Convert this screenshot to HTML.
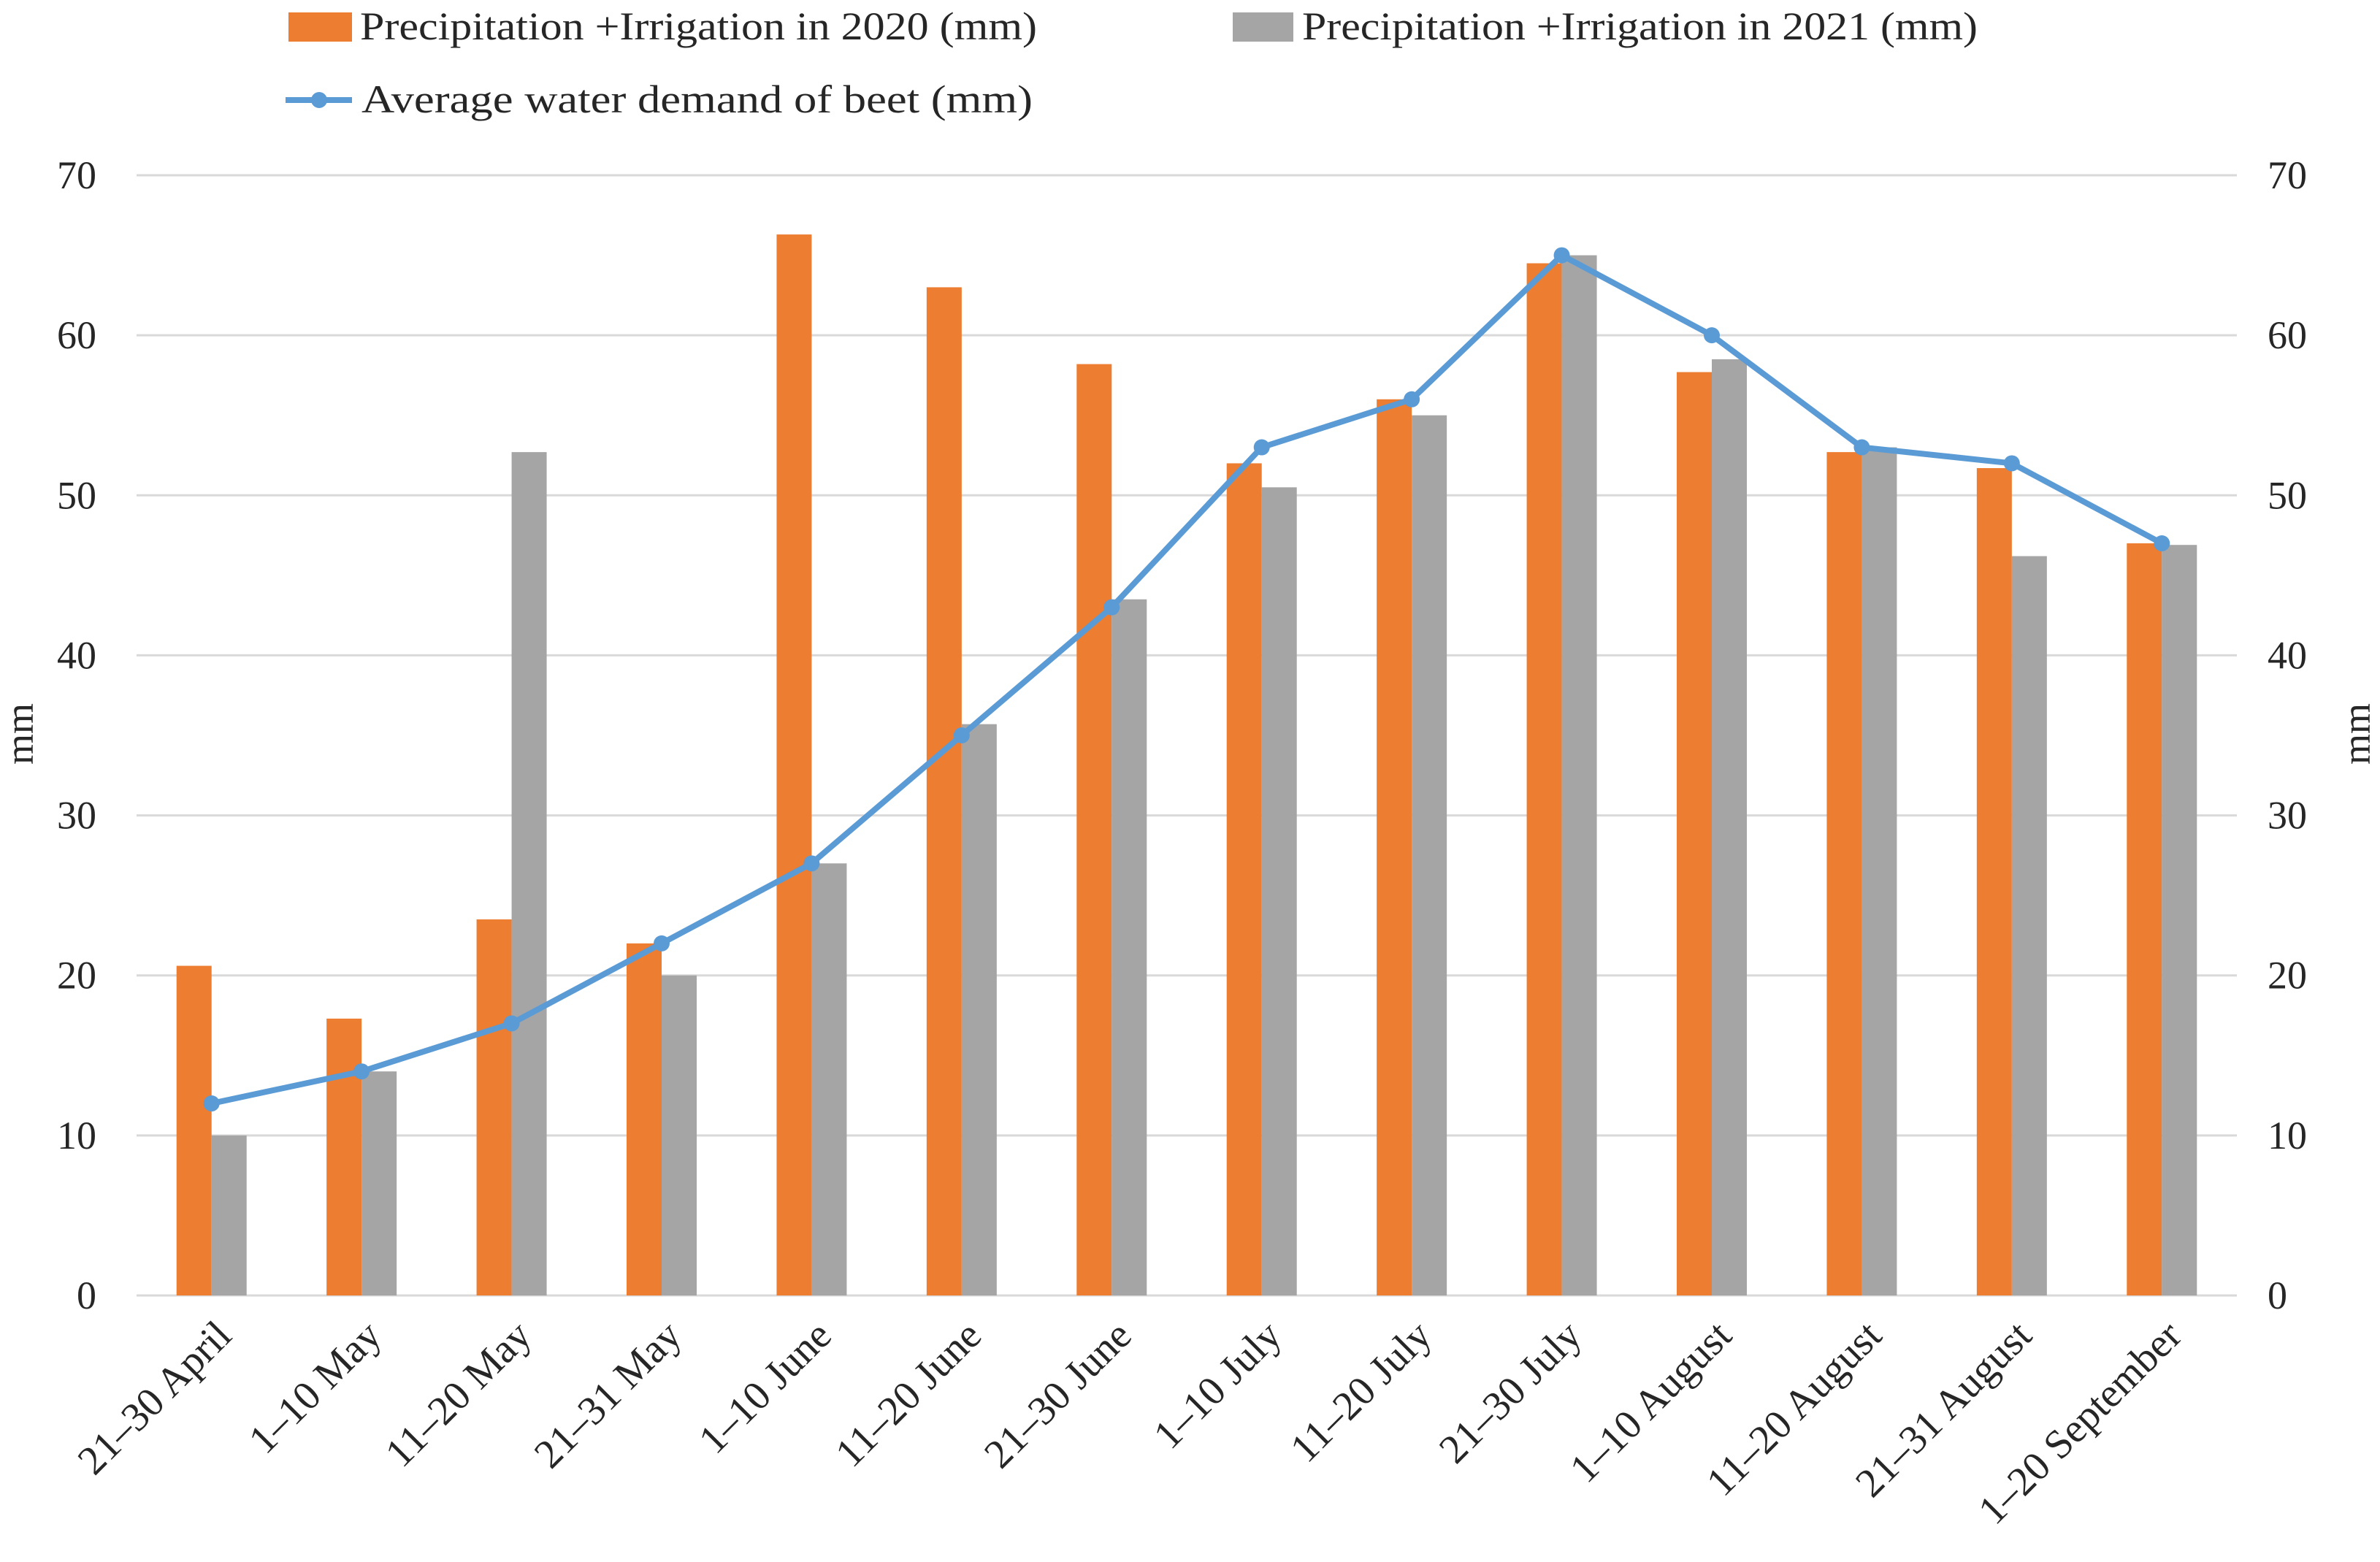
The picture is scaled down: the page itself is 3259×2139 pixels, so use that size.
<!DOCTYPE html>
<html><head><meta charset="utf-8"><style>
html,body{margin:0;padding:0;background:#fff;}
svg{display:block;font-family:"Liberation Serif",serif;}
</style></head><body>
<svg id="chart" width="3259" height="2139" viewBox="0 0 3259 2139" xmlns="http://www.w3.org/2000/svg">
<g>
 <rect x="395" y="17" width="87" height="40" fill="#ED7D31"/>
 <text x="493" y="54" font-size="54" textLength="927" lengthAdjust="spacingAndGlyphs" fill="#262626">Precipitation +Irrigation in 2020 (mm)</text>
 <rect x="1688" y="17" width="83" height="40" fill="#A5A5A5"/>
 <text x="1783" y="54" font-size="54" textLength="925" lengthAdjust="spacingAndGlyphs" fill="#262626">Precipitation +Irrigation in 2021 (mm)</text>
 <line x1="391" y1="137" x2="482" y2="137" stroke="#5B9BD5" stroke-width="8"/>
 <circle cx="437" cy="137" r="11" fill="#5B9BD5"/>
 <text x="495" y="154" font-size="54" textLength="919" lengthAdjust="spacingAndGlyphs" fill="#262626">Average water demand of  beet (mm)</text>
</g>
<text transform="translate(45,1005) rotate(-90)" text-anchor="middle" font-size="54" fill="#262626">mm</text>
<text transform="translate(3245,1005) rotate(-90)" text-anchor="middle" font-size="54" fill="#262626">mm</text>
<g id="grid"></g><g id="bars"></g><g id="line"></g><g id="labels"></g>
</svg>
<script>
const categories=["21–30 April","1–10 May","11–20 May","21–31 May","1–10 June","11–20 June","21–30 June","1–10 July","11–20 July","21–30 July","1–10 August","11–20 August","21–31 August","1–20 September"];
const values2020=[20.6,17.3,23.5,22,66.3,63,58.2,52,56,64.5,57.7,52.7,51.7,47];
const values2021=[10,14,52.7,20,27,35.7,43.5,50.5,55,65,58.5,53,46.2,46.9];
const demand=[12,14,17,22,27,35,43,53,56,65,60,53,52,47];
const ticks=[0,10,20,30,40,50,60,70];

const NS="http://www.w3.org/2000/svg";
const X0=187,X1=3063,Y0=1774,Y70=240;
const bw=(X1-X0)/categories.length;
const y=v=>Y0-(v/70)*(Y0-Y70);
const xc=i=>X0+bw*(i+0.5);
function mk(tag,attrs,parent){const e=document.createElementNS(NS,tag);for(const k in attrs)e.setAttribute(k,attrs[k]);parent.appendChild(e);return e;}
const grid=document.getElementById('grid'),bars=document.getElementById('bars'),line=document.getElementById('line'),labels=document.getElementById('labels');
ticks.forEach(t=>{
 const l=mk('line',{x1:X0,x2:X1,y1:y(t),y2:y(t),stroke:'#d9d9d9','stroke-width':3},grid);
 
 
 const a=mk('text',{x:132,y:y(t)+18,'text-anchor':'end','font-size':54,fill:'#262626'},labels);a.textContent=t;
 
 
 const b=mk('text',{x:3105,y:y(t)+18,'text-anchor':'start','font-size':54,fill:'#262626'},labels);b.textContent=t;
 
 
});
const w=48;
categories.forEach((c,i)=>{
 const cx=xc(i);
 const r1=mk('rect',{x:cx-w,y:y(values2020[i]),width:w,height:Y0-y(values2020[i]),fill:'#ED7D31'},bars);
 
 
 const r2=mk('rect',{x:cx,y:y(values2021[i]),width:w,height:Y0-y(values2021[i]),fill:'#A5A5A5'},bars);
 
 
 const t=mk('text',{transform:`translate(${cx+30},${1832}) rotate(-45)`,'text-anchor':'end','font-size':56,fill:'#262626'},labels);
 t.textContent=c;
 
 
});
const pl=mk('polyline',{points:demand.map((v,i)=>xc(i)+','+y(v)).join(' '),fill:'none',stroke:'#5B9BD5','stroke-width':8,'stroke-linejoin':'round'},line);


demand.forEach((v,i)=>{
 const c=mk('circle',{cx:xc(i),cy:y(v),r:11,fill:'#5B9BD5'},line);
 
 
});
</script>
</body></html>
